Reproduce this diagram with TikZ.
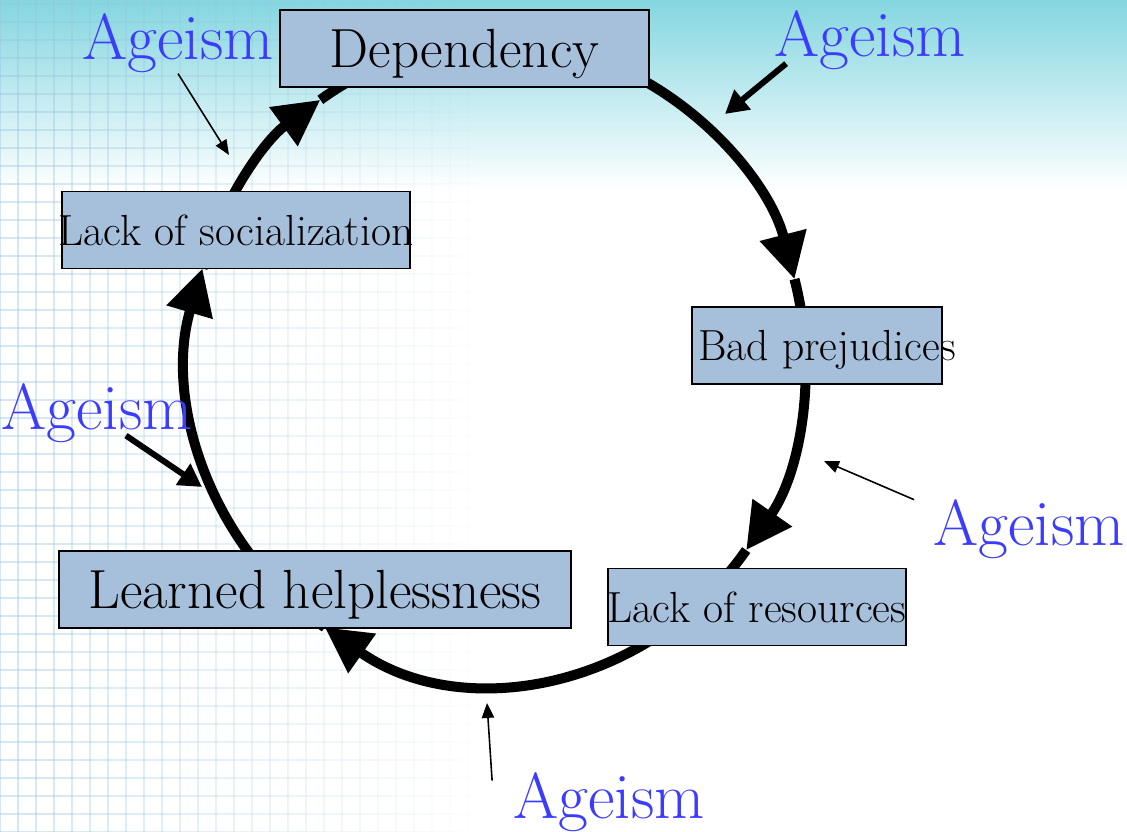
\documentclass[tikz,border=0pt]{standalone}
\usetikzlibrary{arrows.meta,calc}

\definecolor{boxblue}{RGB}{166,191,219}
\definecolor{agblue}{RGB}{60,60,255}
\definecolor{skycyan}{RGB}{132,214,224}
\definecolor{gridblue}{RGB}{150,195,225}

\newcommand{\stagetext}[1]{\makebox[0pt]{#1}}

\begin{document}
\begin{tikzpicture}[x=0.02cm, y=0.02cm]
    \tikzstyle{stage} = [draw=black, line width=0.9pt, fill=boxblue, inner sep=0pt, minimum height=43.8pt, text depth=0pt]
    \tikzstyle{bigstage} = [stage, font=\fontsize{31.4}{36}\selectfont, text height=22.2pt]
    \tikzstyle{smallstage} = [stage, font=\fontsize{24.8}{29}\selectfont, text height=17.1pt]
    \tikzstyle{ageism} = [text=agblue, font=\fontsize{37}{42}\selectfont, inner sep=0pt, anchor=base]
    \tikzstyle{ring} = [line width=5.7pt, -{Triangle[length=26pt, width=26pt]}]
    \tikzstyle{thinarr} = [line width=0.9pt, -{Triangle[length=8.5pt, width=7pt]}]
    \tikzstyle{thickarr} = [line width=3.4pt, -{Triangle[length=13pt, width=14pt]}]

    % Background: sky band on top, fading grid on the left
    \useasboundingbox (0,0) rectangle (1127,832);
    \fill[white] (0,0) rectangle (1127,832);
    \shade[top color=skycyan, bottom color=white] (0,642) rectangle (1127,832);
    \foreach \i in {0,...,26} {
        \pgfmathsetmacro{\op}{0.4*(1-\i/27)}
        \draw[gridblue, line width=1pt, opacity=\op] (\i*18,0) -- (\i*18,832);
        \draw[gridblue, line width=1pt, opacity=\op] \foreach \j in {0,...,46} {(\i*18,\j*18) -- ++(18,0)};
    }

    % Points on the cycle where the big arrowheads sit
    \coordinate (hub) at (497,470);
    \foreach \n/\a in {k1/125, k2/15, k3/-36, k4/-124, k5/163} {
        \path (hub) ++(\a:308 and 320) coordinate (\n);
    }

    % The vicious cycle (drawn under the boxes)
    \draw[ring] (k5) arc[start angle=163, end angle=125, x radius=308, y radius=320];
    \draw[ring] (k1) arc[start angle=125, end angle=15, x radius=308, y radius=320];
    \draw[ring] (k2) arc[start angle=15, end angle=-36, x radius=308, y radius=320];
    \draw[ring] (k3) arc[start angle=-36, end angle=-124, x radius=308, y radius=320];
    \draw[ring] (k4) arc[start angle=236, end angle=163, x radius=308, y radius=320];

    % Stages
    \node[bigstage, minimum width=210pt] (dep) at (464.5,783.5) {\stagetext{Dependency}};
    \node[smallstage, minimum width=198pt] (soc) at (236,602) {\stagetext{Lack of socialization}};
    \node[smallstage, minimum width=142.3pt] (bad) at (817,486.5) {\stagetext{\hspace{11.4pt}Bad prejudices}};
    \node[smallstage, minimum width=169.6pt] (res) at (757,225) {\stagetext{Lack of resources}};
    \node[bigstage, minimum width=291.4pt] (help) at (315,242.5) {\stagetext{Learned helplessness}};

    % Ageism labels
    \node[ageism] (ag1) at (178,772) {Ageism};
    \node[ageism] (ag2) at (870,775) {Ageism};
    \node[ageism] (ag3) at (97,402) {Ageism};
    \node[ageism] (ag4) at (1029,286) {Ageism};
    \node[ageism] (ag5) at (609,13) {Ageism};

    \coordinate (p1) at (229,677);
    \coordinate (p2) at (725,718);
    \coordinate (p3) at (202,345);
    \coordinate (p4) at (824,371);
    \coordinate (p5) at (487,129);

    \draw[thinarr] (ag1.south) -- (p1);
    \draw[thickarr] ($(ag2.south west)+(12,7)$) -- (p2);
    \draw[thickarr] ($(ag3.south)+(29,8)$) -- (p3);
    \draw[thinarr] ($(ag4.north west)+(-19,0)$) -- (p4);
    \draw[thinarr] ($(ag5.north west)+(-21,-8)$) -- (p5);
\end{tikzpicture}
\end{document}
